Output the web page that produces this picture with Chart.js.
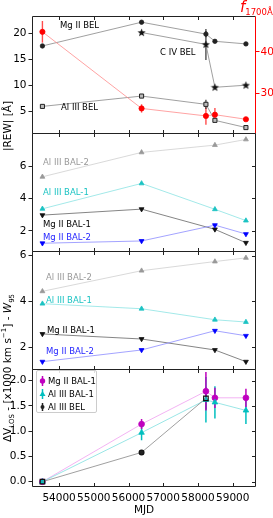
<!DOCTYPE html>
<html>
<head>
<meta charset="utf-8">
<script src="https://cdn.jsdelivr.net/npm/chart.js@4/dist/chart.umd.min.js"></script>
<style>
html, body { margin: 0; padding: 0; background: #fff; }
#fig { position: relative; width: 273px; height: 518px; overflow: hidden; font-family: "DejaVu Sans", sans-serif; }
#fig canvas { position: absolute; left: 0; }
.note { position: absolute; font-size: 8.5px; line-height: 1; white-space: nowrap; transform: translateY(-50%); }
.ylab { position: absolute; font-size: 10.5px; white-space: nowrap; transform: translate(-50%, -50%) rotate(-90deg); }
#legend { position: absolute; left: 36px; top: 370px; width: 61px; height: 43px; box-sizing: border-box;
  border: 1px solid #ccc; border-radius: 2px; background: rgba(255,255,255,0.85); font-size: 8.5px; }
#legend div { position: absolute; left: 2px; height: 12px; line-height: 12px; white-space: nowrap; }
#legend svg { vertical-align: top; margin-right: 2px; }
</style>
</head>
<body>
<div id="fig">
  <canvas id="p1" width="273" height="145" style="top:0px"></canvas>
  <canvas id="p2" width="273" height="142" style="top:121px"></canvas>
  <canvas id="p3" width="273" height="142" style="top:239px"></canvas>
  <canvas id="p4" width="273" height="161" style="top:357px"></canvas>

  <div class="ylab" style="left:7px; top:126px">|REW| [Å]</div>
  <div class="ylab" style="left:8px; top:368px">ΔV<sub style="font-size:7px">LOS</sub> - [x1000 km s<sup style="font-size:7px">−1</sup>] - <i>W</i><sub style="font-size:7px">95</sub></div>
  <div style="position:absolute; left:240px; top:-3px; color:#f00; white-space:nowrap"><i style="font-size:15px">f</i><span style="font-size:8.5px; position:relative; top:3px">1700Å</span></div>

  <div class="note" style="left:60px; top:25px">Mg II BEL</div>
  <div class="note" style="left:160px; top:52px">C IV BEL</div>
  <div class="note" style="left:61px; top:107px">Al III BEL</div>

  <div class="note" style="left:43px; top:162px; color:#999">Al III BAL-2</div>
  <div class="note" style="left:43px; top:192px; color:#1cc3c3">Al III BAL-1</div>
  <div class="note" style="left:43px; top:224px; color:#000">Mg II BAL-1</div>
  <div class="note" style="left:43px; top:237px; color:#1f1fff">Mg II BAL-2</div>

  <div class="note" style="left:46px; top:277px; color:#999">Al III BAL-2</div>
  <div class="note" style="left:46px; top:300px; color:#1cc3c3">Al III BAL-1</div>
  <div class="note" style="left:47px; top:330px; color:#000">Mg II BAL-1</div>
  <div class="note" style="left:46px; top:351px; color:#1f1fff">Mg II BAL-2</div>

  <div id="legend">
    <div style="top:4px"><svg width="7" height="12"><line x1="3.5" y1="1" x2="3.5" y2="11" stroke="#bf00bf" stroke-width="1.5"/><circle cx="3.5" cy="6" r="2.7" fill="#bf00bf"/></svg>Mg II BAL-1</div>
    <div style="top:17px"><svg width="7" height="12"><line x1="3.5" y1="1" x2="3.5" y2="11" stroke="#00bfbf" stroke-width="1.5"/><polygon points="3.5,3 6.5,8 0.5,8" fill="#00bfbf"/></svg>Al III BAL-1</div>
    <div style="top:30px"><svg width="7" height="12"><line x1="3.5" y1="2" x2="3.5" y2="10" stroke="#222" stroke-width="1.5"/><circle cx="3.5" cy="6" r="2" fill="#222"/></svg>Al III BEL</div>
  </div>
</div>

<script>
// epochs (MJD)
const MJD_ALL = [53520, 56375, 58228, 58487, 59380];
const MJD_CIV = [56375, 58228, 58487, 59380];
const MJD_BAL = [53520, 56375, 58487, 59380];
const MJD_AL3BEL_V = [53520, 56375, 58228];

// panel 1: BEL rest equivalent widths and continuum flux
const rewMg2Bel = [17.6, 22.2, 19.9, 18.5, 18.0];
const rewMg2BelErr = [0, 0, 0.6, 0, 0];
const rewC4Bel = [20.2, 17.9, 9.6, 10.0];
const rewC4BelErr = [0, 3.0, 0, 0];
const rewAl3Bel = [5.9, 7.9, 6.3, 3.2, 1.8];
const rewAl3BelErr = [0, 0, 0.9, 0, 0];
const f1700 = [44.8, 26.4, 24.6, 24.9, 23.8];
const f1700Err = [2.6, 1.0, 2.1, 1.6, 0.3];

// panel 2: BAL |REW|
const rewAl3Bal2 = [5.34, 6.85, 7.3, 7.65];
const rewAl3Bal1 = [3.36, 4.93, 3.33, 2.63];
const rewMg2Bal1 = [2.97, 3.34, 2.09, 1.26];
const rewMg2Bal2 = [1.23, 1.37, 2.35, 1.8];

// panel 3: BAL W95
const w95Al3Bal2 = [4.44, 5.34, 5.74, 5.9];
const w95Al3Bal1 = [3.9, 3.68, 3.2, 3.1];
const w95Mg2Bal1 = [2.58, 2.36, 1.88, 1.37];
const w95Mg2Bal2 = [1.37, 1.88, 2.72, 2.5];

// panel 4: velocity shifts
const dvMg2Bal1 = [0, 1.14, 1.79, 1.66, 1.66];
const dvMg2Bal1Err = [0, 0.1, 0.38, 0.2, 0.18];
const dvAl3Bal1 = [0, 0.97, 1.62, 1.57, 1.41];
const dvAl3Bal1Err = [0, 0.15, 0.45, 0.32, 0.27];
const dvAl3Bel = [0, 0.58, 1.65];
const dvAl3BelErr = [0, 0.04, 0.22];

// ticks
const XTICKS = [54000, 55000, 56000, 57000, 58000, 59000];
const Y1TICKS = [5, 10, 15, 20];
const Y1RTICKS = [30, 40];
const Y2TICKS = [2, 4, 6];
const Y3TICKS = [2, 4, 6];
const Y4TICKS = [0, 0.5, 1.0, 1.5, 2.0];

const X_MIN = 53220, X_MAX = 59670;
const FONT = { family: "DejaVu Sans", size: 10.5 };

const pts = (xs, ys) => xs.map((x, i) => ({ x, y: ys[i] }));

const starMarker = (() => {
  const c = document.createElement("canvas");
  c.width = 9; c.height = 9;
  const g = c.getContext("2d");
  g.fillStyle = "#111";
  g.beginPath();
  for (let i = 0; i < 10; i++) {
    const r = i % 2 ? 1.8 : 4.3;
    const a = -Math.PI / 2 + i * Math.PI / 5;
    g.lineTo(4.5 + r * Math.cos(a), 4.8 + r * Math.sin(a));
  }
  g.closePath();
  g.fill();
  return c;
})();

const framePlugin = {
  id: "frame",
  beforeDatasetsDraw(chart) {
    const { ctx, chartArea: a } = chart;
    ctx.save();
    ctx.beginPath();
    ctx.rect(a.left, a.top, a.right - a.left, a.bottom - a.top);
    ctx.clip();
    chart.data.datasets.forEach((ds) => {
      if (!ds.err) return;
      const ys = chart.scales[ds.yAxisID || "y"];
      const xs = chart.scales.x;
      ctx.strokeStyle = ds.errColor || ds.borderColor;
      ctx.lineWidth = ds.errWidth || 1.2;
      ds.data.forEach((p, i) => {
        const e = ds.err[i];
        if (!e) return;
        const px = xs.getPixelForValue(p.x);
        ctx.beginPath();
        ctx.moveTo(px, ys.getPixelForValue(p.y - e));
        ctx.lineTo(px, ys.getPixelForValue(p.y + e));
        ctx.stroke();
      });
    });
    ctx.restore();
  },
  afterDraw(chart, args, opts) {
    const { ctx, chartArea: a, scales } = chart;
    const L = Math.round(a.left) + 0.5, R = Math.round(a.right) - 0.5;
    const T = Math.round(a.top) + 0.5, B = Math.round(a.bottom) + 0.5;
    ctx.save();
    ctx.lineWidth = 1;
    ctx.strokeStyle = "#222";
    ctx.beginPath();
    ctx.moveTo(R, T); ctx.lineTo(L, T); ctx.lineTo(L, B); ctx.lineTo(R, B);
    if (!opts.redRight) ctx.lineTo(R, T);
    ctx.stroke();
    ctx.beginPath();
    XTICKS.forEach((v) => {
      const px = Math.round(scales.x.getPixelForValue(v)) + 0.5;
      ctx.moveTo(px, T); ctx.lineTo(px, T + 3.5);
      ctx.moveTo(px, B); ctx.lineTo(px, B - 3.5);
    });
    if (!opts.redRight) {
      (opts.yticks || []).forEach((v) => {
        const py = Math.round(scales.y.getPixelForValue(v)) + 0.5;
        ctx.moveTo(R, py); ctx.lineTo(R - 3.5, py);
      });
    }
    ctx.stroke();
    if (opts.redRight) {
      ctx.strokeStyle = "#f00";
      ctx.beginPath();
      ctx.moveTo(R, T); ctx.lineTo(R, B);
      ctx.stroke();
    }
    ctx.restore();
  },
};

const yScale = (min, max, ticks, fmt) => ({
  type: "linear",
  position: "left",
  min, max,
  afterBuildTicks: (s) => { s.ticks = ticks.map((v) => ({ value: v })); },
  afterFit: (s) => { s.width = 32; },
  grid: { drawOnChartArea: false, tickLength: 3.5, color: "#222", lineWidth: 1 },
  border: { display: false },
  ticks: { font: FONT, color: "#000", padding: 2, callback: fmt || ((v) => String(v)) },
});

const xScale = (show) => ({
  type: "linear",
  min: X_MIN, max: X_MAX,
  display: show,
  afterBuildTicks: (s) => { s.ticks = XTICKS.map((v) => ({ value: v })); },
  afterFit: (s) => { s.height = show ? 32 : 0; },
  grid: { display: false, drawTicks: false },
  border: { display: false },
  ticks: { font: FONT, color: "#000", padding: 6, maxRotation: 0, autoSkip: false, callback: (v) => String(v) },
  title: { display: show, text: "MJD", font: FONT, color: "#000", padding: { top: 0, bottom: 1 } },
});

const series = (data, color, line, style, radius, extra) => Object.assign({
  data,
  borderColor: line,
  backgroundColor: color,
  pointBackgroundColor: color,
  pointBorderColor: color,
  pointStyle: style,
  pointRadius: radius,
  pointBorderWidth: 0.8,
  borderWidth: 0.8,
  showLine: true,
  tension: 0,
}, extra || {});

const makeChart = (id, datasets, scales, pad, frameOpts) => new Chart(document.getElementById(id), {
  type: "scatter",
  data: { datasets },
  options: {
    responsive: false,
    animation: false,
    events: [],
    layout: { padding: pad },
    plugins: { legend: { display: false }, tooltip: { enabled: false }, frame: frameOpts },
    scales,
  },
  plugins: [framePlugin],
});

// panel 1
makeChart("p1", [
  series(pts(MJD_ALL, f1700), "#f00", "#ff8c8c", "circle", 2.6, { yAxisID: "y2", err: f1700Err, errColor: "#ff4d4d", errWidth: 1.4 }),
  series(pts(MJD_ALL, rewMg2Bel), "#222", "#888", "circle", 2.2, { err: rewMg2BelErr, errColor: "#333" }),
  series(pts(MJD_CIV, rewC4Bel), "#111", "#888", starMarker, 4, { err: rewC4BelErr, errColor: "#333" }),
  series(pts(MJD_ALL, rewAl3Bel), "#bbb", "#888", "rect", 2.9, { pointBorderColor: "#222", pointBorderWidth: 1, err: rewAl3BelErr, errColor: "#333" }),
], {
  x: xScale(false),
  y: yScale(0.75, 23.4, Y1TICKS),
  y2: {
    type: "linear", position: "right", min: 20.5, max: 48.6,
    afterBuildTicks: (s) => { s.ticks = Y1RTICKS.map((v) => ({ value: v })); },
    afterFit: (s) => { s.width = 17; },
    grid: { drawOnChartArea: false, tickLength: 3.5, color: "#f00", lineWidth: 1 },
    border: { display: false },
    ticks: { font: FONT, color: "#f00", padding: 1 },
  },
}, { top: 16, bottom: 12, left: 0, right: 0 }, { redRight: true });

// panel 2
makeChart("p2", [
  series(pts(MJD_BAL, rewMg2Bal2), "#0000ff", "#8c8cff", "triangle", 2.8, { pointRotation: 180 }),
  series(pts(MJD_BAL, rewMg2Bal1), "#111", "#666", "triangle", 2.8, { pointRotation: 180 }),
  series(pts(MJD_BAL, rewAl3Bal1), "#1cc3c3", "#8ce3e3", "triangle", 2.8),
  series(pts(MJD_BAL, rewAl3Bal2), "#999", "#cfcfcf", "triangle", 2.8),
], {
  x: xScale(false),
  y: yScale(0.75, 8.05, Y2TICKS),
}, { top: 12, bottom: 12, left: 0, right: 17 }, { yticks: Y2TICKS });

// panel 3
makeChart("p3", [
  series(pts(MJD_BAL, w95Mg2Bal2), "#0000ff", "#8c8cff", "triangle", 2.8, { pointRotation: 180 }),
  series(pts(MJD_BAL, w95Mg2Bal1), "#111", "#666", "triangle", 2.8, { pointRotation: 180 }),
  series(pts(MJD_BAL, w95Al3Bal1), "#1cc3c3", "#8ce3e3", "triangle", 2.8),
  series(pts(MJD_BAL, w95Al3Bal2), "#999", "#cfcfcf", "triangle", 2.8),
], {
  x: xScale(false),
  y: yScale(1.05, 6.2, Y3TICKS),
}, { top: 12, bottom: 12, left: 0, right: 17 }, { yticks: Y3TICKS });

// panel 4
makeChart("p4", [
  series(pts(MJD_AL3BEL_V, dvAl3Bel), ["rgba(0,0,0,0)", "#222", "rgba(0,0,0,0)"], "#888", ["rect", "circle", "rect"], [3.2, 2.4, 3.2],
    { pointBorderColor: "#111", pointBorderWidth: 1.2, err: dvAl3BelErr, errColor: "#222", errWidth: 1.5 }),
  series(pts(MJD_ALL, dvAl3Bal1), "#00bfbf", "#80dfdf", "triangle", 3.2, { err: dvAl3Bal1Err, errColor: "#00bfbf", errWidth: 1.5 }),
  series(pts(MJD_ALL, dvMg2Bal1), "#bf00bf", "#f0a0f0", "circle", 2.9, { err: dvMg2Bal1Err, errColor: "#bf00bf", errWidth: 1.5 }),
], {
  x: xScale(true),
  y: yScale(-0.085, 2.23, Y4TICKS, (v) => v.toFixed(1)),
}, { top: 12, bottom: 0, left: 0, right: 17 }, { yticks: Y4TICKS });
</script>
</body>
</html>
